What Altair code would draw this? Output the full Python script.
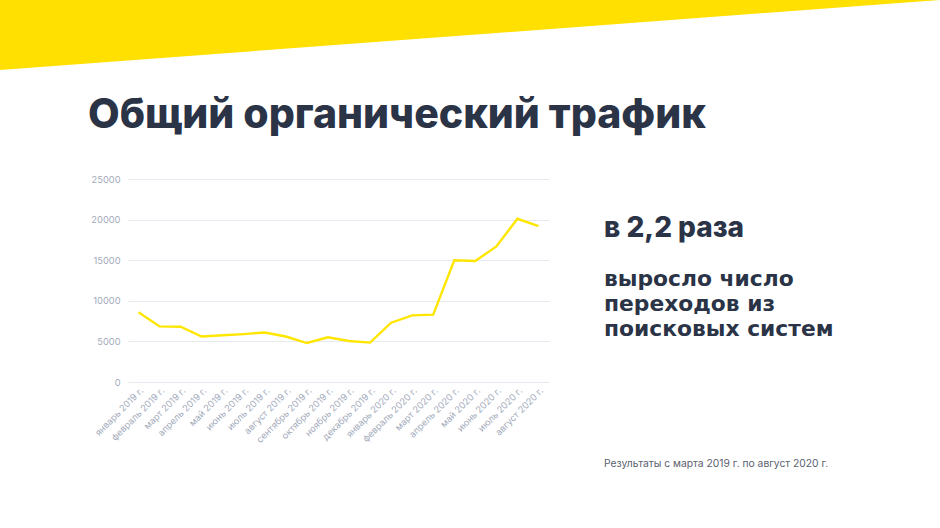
import altair as alt
import pandas as pd

months = ["январь 2019 г.", "февраль 2019 г.", "март 2019 г.", "апрель 2019 г.",
          "май 2019 г.", "июнь 2019 г.", "июль 2019 г.", "август 2019 г.",
          "сентябрь 2019 г.", "октябрь 2019 г.", "ноябрь 2019 г.", "декабрь 2019 г.",
          "январь 2020 г.", "февраль 2020 г.", "март 2020 г.", "апрель 2020 г.",
          "май 2020 г.", "июнь 2020 г.", "июль 2020 г.", "август 2020 г."]
traffic = [8600, 6850, 6800, 5600, 5750, 5900, 6100, 5600, 4800, 5500,
           5050, 4850, 7300, 8200, 8300, 15000, 14900, 16700, 20100, 19200]
y_ticks = [0, 5000, 10000, 15000, 20000, 25000]

title_text = "Общий органический трафик"
big_text = "в 2,2 раза"
sub_lines = ["выросло число", "переходов из", "поисковых систем"]
note_text = "Результаты с марта 2019 г. по август 2020 г."

df = pd.DataFrame({"month": months, "traffic": traffic})

W, H = 421, 203
PL, PT = 128, 179
DARK = "#2b3447"
GREY = "#a3abbb"
YELLOW = "#ffe000"
FONT = "Inter"

base = alt.Chart(df)

line = base.mark_line(color="#ffe600", strokeWidth=2.4).encode(
    x=alt.X("month:N", sort=months, scale=alt.Scale(padding=0.5),
            axis=alt.Axis(title=None, labelAngle=-45, labelColor=GREY, labelFontSize=9.2,
                          labelFont=FONT, labelAlign="right", labelBaseline="top",
                          ticks=False, domain=False, grid=False, labelPadding=4)),
    y=alt.Y("traffic:Q", scale=alt.Scale(domain=[0, 25000], nice=False),
            axis=alt.Axis(title=None, values=y_ticks, labelColor=GREY, labelFontSize=9.3,
                          labelFont=FONT, ticks=False, domain=False, grid=True,
                          gridColor="#e6e9f0", gridWidth=1, labelPadding=8,
                          format="d")),
)

one = pd.DataFrame({"k": [0]})
deco = alt.Chart(one)

# yellow triangle banner (custom symbol anchored at canvas top-left)
tri = deco.mark_point(shape="M0,0 L1.0,0 L0,0.0745 Z", filled=True, fill=YELLOW,
                      opacity=1, size=1880 ** 2, strokeWidth=0).encode(
    x=alt.value(-PL), y=alt.value(-PT))

title = deco.mark_text(text=title_text, font=FONT, fontSize=41, fontWeight=800,
                       color=DARK, align="left", baseline="alphabetic").encode(
    x=alt.value(88 - PL), y=alt.value(128 - PT))

big = deco.mark_text(text=big_text, font=FONT, fontSize=28, fontWeight=800,
                     color=DARK, align="left", baseline="alphabetic").encode(
    x=alt.value(604 - PL), y=alt.value(237 - PT))

sub = deco.mark_text(text=sub_lines, font="DejaVu Sans", fontSize=21.8, fontWeight="bold",
                     color=DARK, align="left", baseline="alphabetic",
                     lineHeight=25).encode(
    x=alt.value(604 - PL), y=alt.value(286 - PT))

note = deco.mark_text(text=note_text, font=FONT, fontSize=10.3, color="#5a6170",
                      align="left", baseline="alphabetic").encode(
    x=alt.value(604 - PL), y=alt.value(467 - PT))

chart = alt.layer(tri, line, title, big, sub, note).properties(
    width=W, height=H,
    autosize=alt.AutoSizeParams(type="none"),
    padding={"left": PL, "top": PT, "right": 940 - PL - W, "bottom": 528 - PT - H},
    background="white",
).configure_view(stroke=None)

chart.save("out.html", embed_options={"renderer": "svg", "actions": False})
